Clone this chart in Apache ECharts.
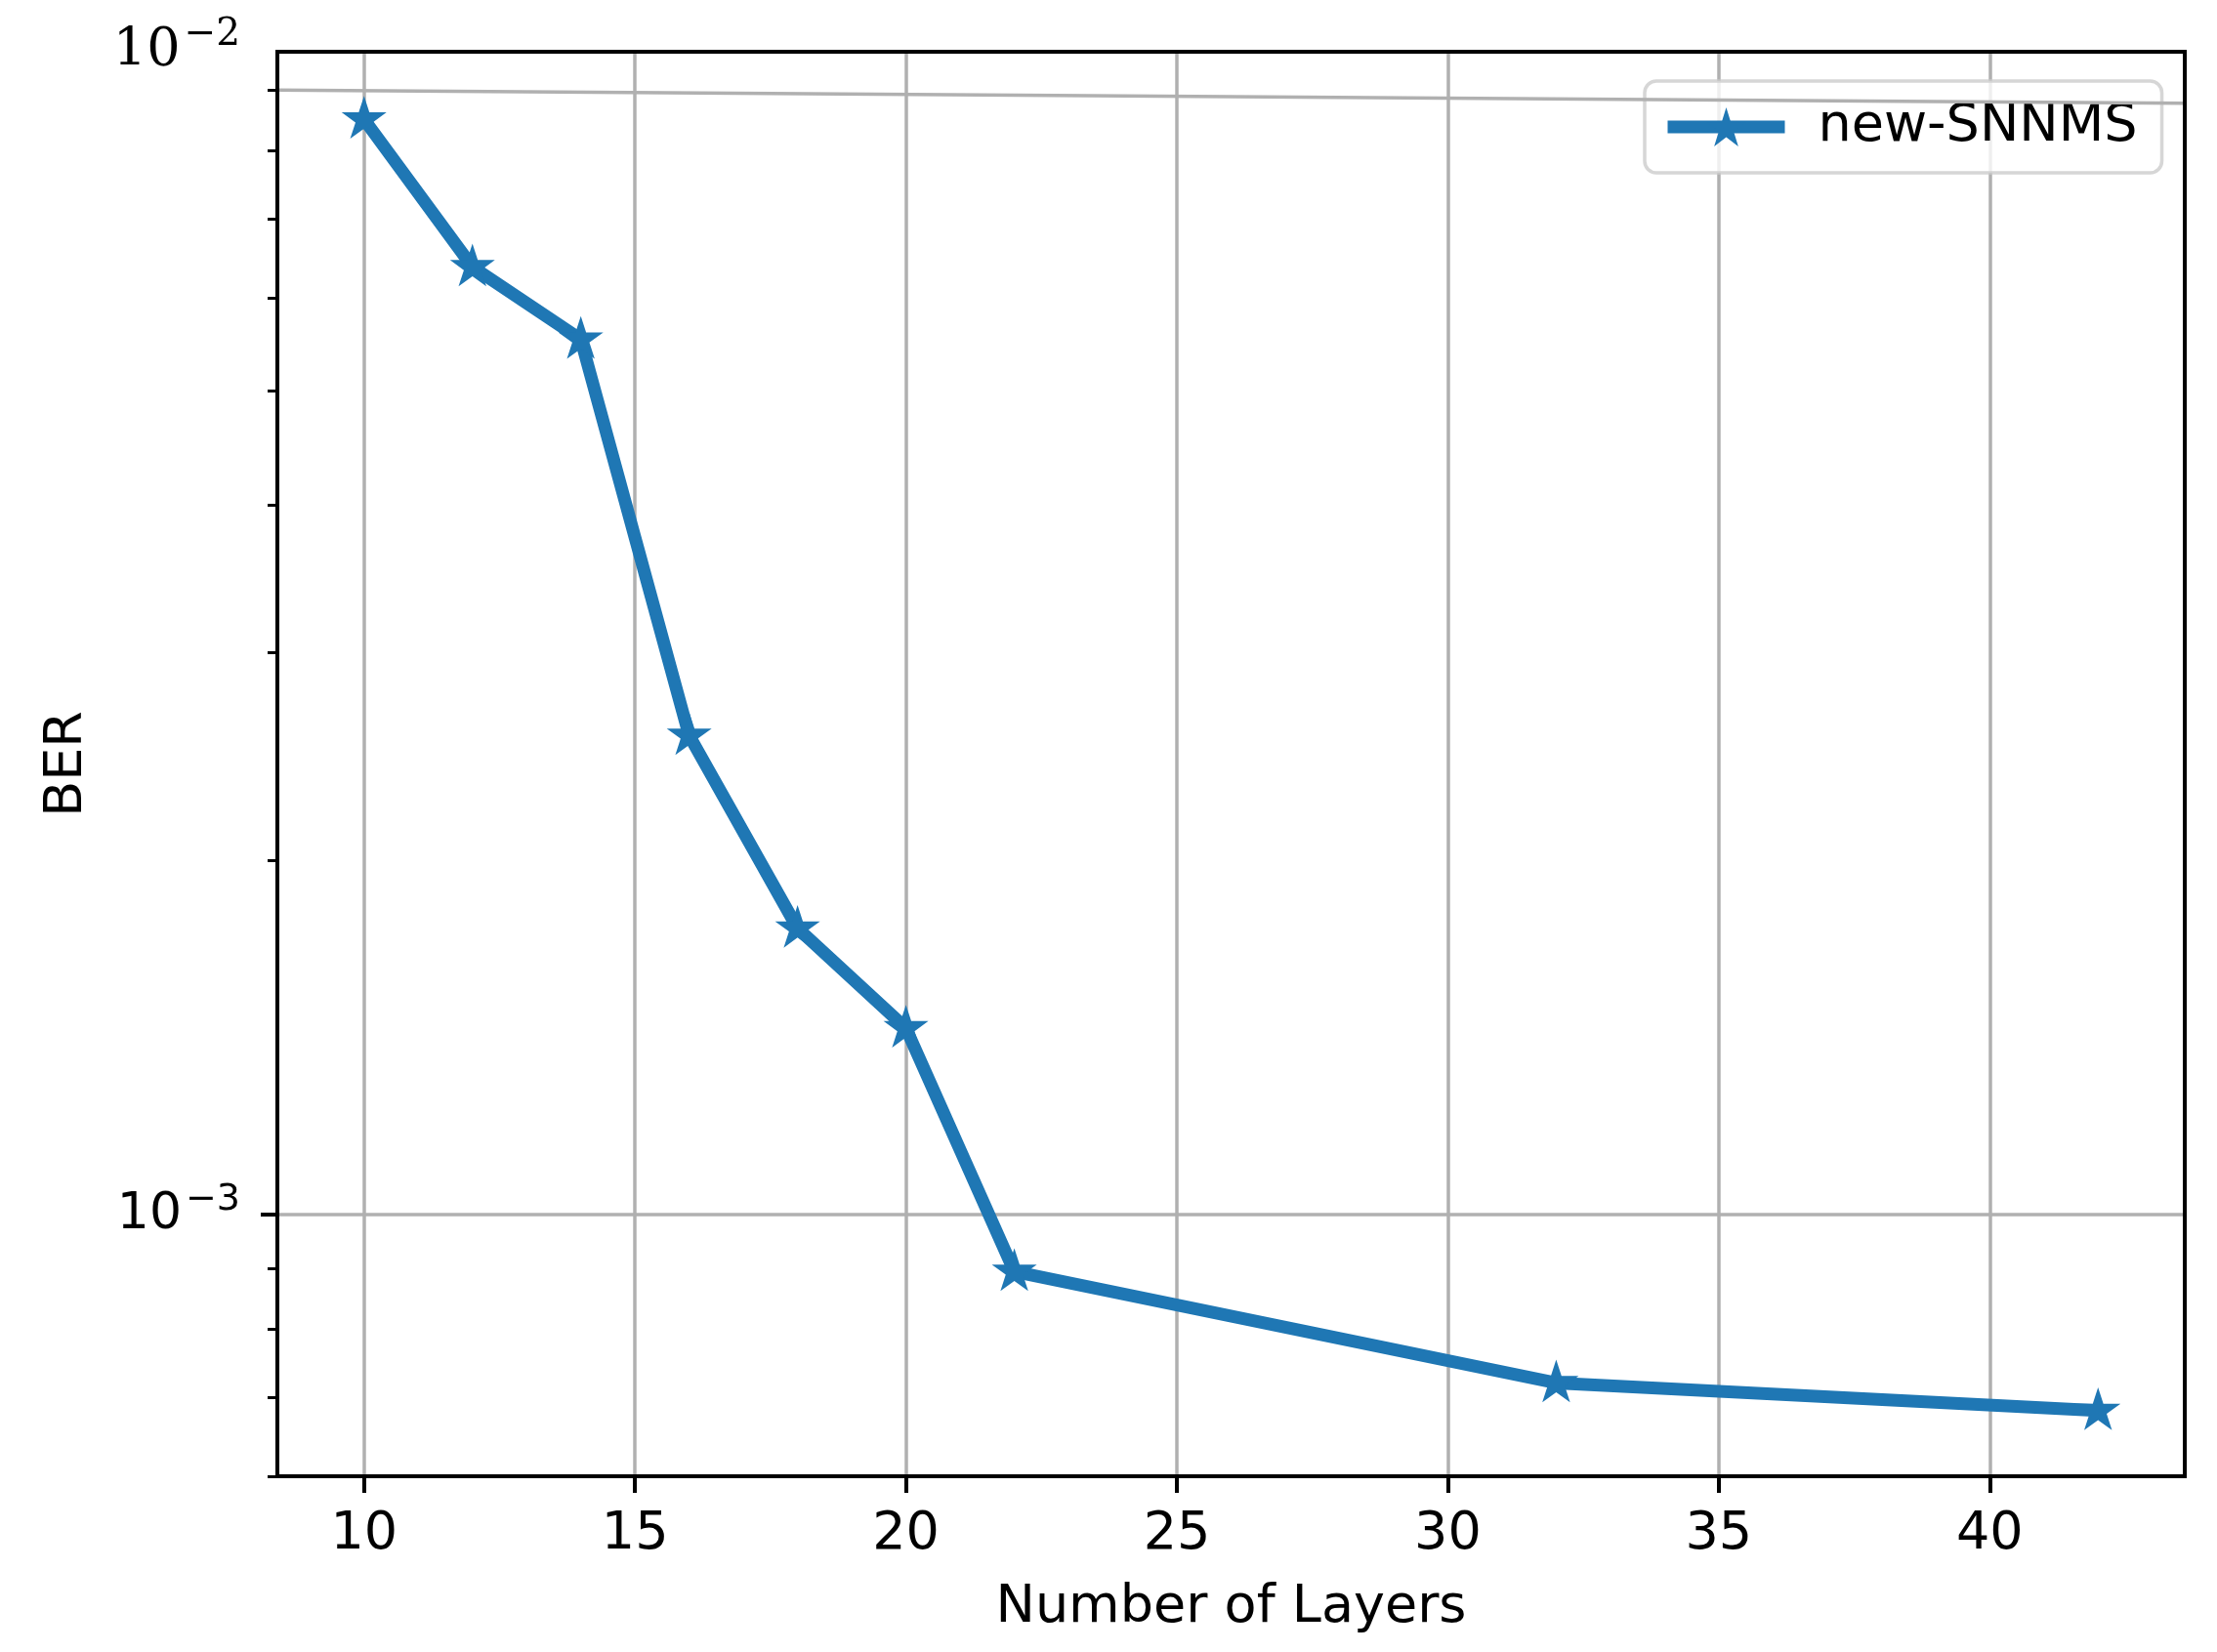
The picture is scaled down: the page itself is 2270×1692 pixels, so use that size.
<!DOCTYPE html>
<html>
<head>
<meta charset="utf-8">
<title>BER vs Number of Layers</title>
<script src="https://cdn.jsdelivr.net/npm/echarts@6/dist/echarts.min.js"></script>
<style>
html, body { margin: 0; padding: 0; background: #fff; }
#main { width: 2270px; height: 1692px; }
</style>
</head>
<body>
<div id="main"></div>
<script>
// data
var layers = [10, 12, 14, 16, 18, 20, 22, 32, 42];
var ber = [8.5e-3, 6.37e-3, 5.53e-3, 2.55e-3, 1.75e-3, 1.44e-3, 8.95e-4, 7.2e-4, 6.82e-4];

var xTicks = [10, 15, 20, 25, 30, 35, 40];
var yMajor = [1e-3];
var yMinor = [6e-4, 7e-4, 8e-4, 9e-4, 2e-3, 3e-3, 4e-3, 5e-3, 6e-3, 7e-3, 8e-3, 9e-3];
var xRange = [8.4, 43.6];
var yRange = [6e-4, 9.7e-3];
// the slightly tilted grey line near the top of the plot
var strayLine = [[8.4, 9.0e-3], [43.6, 8.77e-3]];

var blue = '#1f77b4';
var grey = '#b0b0b0';
var font = 'DejaVu Sans';

function starPath() {
    var pts = [];
    for (var i = 0; i < 10; i++) {
        var r = i % 2 ? 0.382 : 1;
        var a = -Math.PI / 2 + i * Math.PI / 5;
        pts.push((r * Math.cos(a)).toFixed(4) + ' ' + (r * Math.sin(a)).toFixed(4));
    }
    return 'path://M' + pts.join(' L') + ' Z';
}

// label as power of ten (nearest decade)
function decadeLabel(v) {
    var e = Math.round(Math.log10(v));
    if (Math.abs(Math.log10(v) - e) > 0.03) return '';
    if (e === -2) return '{bs|10}{ss|\u2212' + (-e) + '}';
    return '{b|10}{s|\u2212' + (-e) + '}';
}

var myChart = echarts.init(document.getElementById('main'));

option = {
    animation: false,
    backgroundColor: '#fff',
    grid: {
        show: true,
        z: 10,
        left: 284,
        right: 33,
        top: 53,
        bottom: 180,
        backgroundColor: 'transparent',
        borderColor: '#000',
        borderWidth: 4
    },
    legend: {
        data: ['new-SNNMS'],
        left: 1684,
        top: 83,
        padding: [20, 25, 20, 17],
        itemWidth: 120,
        itemHeight: 50,
        backgroundColor: 'rgba(255,255,255,0.8)',
        borderColor: 'rgba(204,204,204,0.8)',
        borderWidth: 3.5,
        borderRadius: 12,
        lineStyle: { width: 13 },
        textStyle: { fontSize: 54, color: '#000', fontFamily: font, padding: [0, 0, 0, 29] }
    },
    xAxis: [
        {
            type: 'value',
            position: 'bottom',
            min: xRange[0],
            max: xRange[1],
            axisLine: { show: false },
            axisTick: { show: true, customValues: xTicks, length: 17, lineStyle: { color: '#000', width: 4 } },
            axisLabel: { customValues: xTicks, margin: 33, fontSize: 54, color: '#000', fontFamily: font },
            splitLine: { show: true, lineStyle: { color: grey, width: 3.5 } },
            name: 'Number of Layers',
            nameLocation: 'middle',
            nameGap: 108,
            nameTextStyle: { fontSize: 54, color: '#000', fontFamily: font }
        }
    ],
    yAxis: [
        {
            type: 'log',
            logBase: 10,
            position: 'left',
            min: yRange[0],
            max: yRange[1],
            axisLine: { show: false },
            axisTick: { show: true, customValues: yMajor, length: 17, lineStyle: { color: '#000', width: 4 } },
            axisLabel: {
                customValues: yMajor.concat([yRange[1]]),
                margin: 38,
                color: '#000',
                formatter: decadeLabel,
                rich: {
                    b: { fontSize: 52, fontFamily: font, color: '#000' },
                    s: { fontSize: 38, fontFamily: font, color: '#000', padding: [0, 0, 30, 4] },
                    bs: { fontSize: 54, fontFamily: 'DejaVu Serif', color: '#000' },
                    ss: { fontSize: 39, fontFamily: 'DejaVu Serif', color: '#000', padding: [0, 0, 34, 4] }
                }
            },
            splitLine: { show: true, lineStyle: { color: grey, width: 3.5 } },
            name: 'BER',
            nameLocation: 'middle',
            nameRotate: 90,
            nameGap: 188,
            nameTextStyle: { fontSize: 54, color: '#000', fontFamily: font }
        },
        {
            // minor ticks of the log axis
            type: 'log',
            logBase: 10,
            position: 'left',
            min: yRange[0],
            max: yRange[1],
            axisLine: { show: false },
            axisLabel: { show: false },
            splitLine: { show: false },
            axisTick: { show: true, customValues: yMinor, length: 10, lineStyle: { color: '#000', width: 3 } }
        }
    ],
    series: [
        {
            name: 'new-SNNMS',
            type: 'line',
            data: layers.map(function (x, i) { return [x, ber[i]]; }),
            symbol: starPath(),
            symbolSize: 46,
            symbolKeepAspect: true,
            symbolOffset: [0, -2],
            lineStyle: { color: blue, width: 13 },
            itemStyle: { color: blue },
            markLine: {
                silent: true,
                symbol: 'none',
                label: { show: false },
                lineStyle: { color: grey, width: 3.5, type: 'solid' },
                data: [[{ coord: strayLine[0] }, { coord: strayLine[1] }]]
            }
        }
    ]
};

myChart.setOption(option);
</script>
</body>
</html>
